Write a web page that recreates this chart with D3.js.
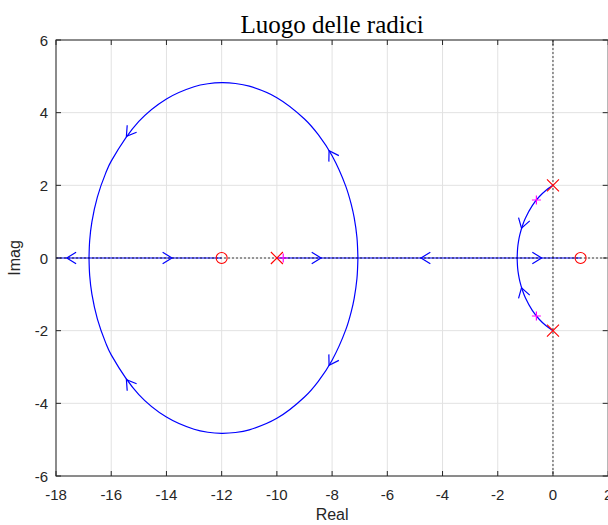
<!DOCTYPE html>
<html><head><meta charset="utf-8">
<script src="https://cdn.jsdelivr.net/npm/d3@7"></script>
<style>body{margin:0;background:#fff;} svg{display:block;}</style>
</head><body>
<script>
// ---- data ----
const xTicks = [-18,-16,-14,-12,-10,-8,-6,-4,-2,0,2];
const yTicks = [-6,-4,-2,0,2,4,6];
const titleText = "Luogo delle radici";
const xLabel = "Real", yLabel = "Imag";
// open-loop poles (x) and zeros (o)
const polesRe = [0, 0, -10];
const polesIm = [2, -2, 0];
const zerosRe = [1, -12];
const zerosIm = [0, 0];
// closed-loop poles at the chosen gain (magenta +)
const clRe = [-0.6, -0.6, -9.77];
const clIm = [1.597, -1.597, 0];
// real-axis locus segments
const segStart = [-18, -10];
const segEnd = [-12, 1];
// big loop (upper half; lower half is its conjugate)
const loopRe = [-7.065,-7.1,-7.2,-7.3,-7.5,-8,-8.5,-9,-10,-11,-11.5,-12,-12.5,-13,-14,-15,-16,-16.2,-16.5,-16.7,-16.78,-16.804];
const loopIm = [0,0.566,1.109,1.456,1.965,2.812,3.393,3.826,4.413,4.729,4.803,4.825,4.796,4.714,4.378,3.759,2.665,2.336,1.684,0.995,0.48,0];
// small arc from the complex poles (upper half; lower is conjugate)
const arcRe = [0,-0.25,-0.5,-0.75,-1.0,-1.1,-1.2,-1.25,-1.28,-1.298];
const arcIm = [2,1.865,1.685,1.442,1.095,0.903,0.644,0.453,0.277,0];
// direction arrows: position and direction (data units)
const arrX = [-17.61,-13.8,-8.4,-4.78,-0.41,-1.14,-1.14,-15.45,-15.45,-8.11,-8.11];
const arrY = [0,0,0,0,0,0.82,-0.82,3.35,-3.35,2.955,-2.955];
const arrDX = [-1,1,1,-1,1,-1,-1,-1,-1,-1,-1];
const arrDY = [0,0,0,0,0,-2.59,2.59,-1.04,1.04,1.27,-1.27];

// ---- layout ----
const W = 608, H = 525;
const L = 56, R = 608.2, T = 40, B = 476;
const axisCol = "#262626";
const svg = d3.select("body").append("svg").attr("width", W).attr("height", H);
const x = d3.scaleLinear().domain([-18, 2]).range([L, R]);
const y = d3.scaleLinear().domain([-6, 6]).range([B, T]);

svg.append("defs").append("clipPath").attr("id","clip")
  .append("rect").attr("x",L).attr("y",T).attr("width",R-L).attr("height",B-T);

// grid
const grid = svg.append("g").attr("stroke","#e2e2e2").attr("stroke-width",1);
grid.selectAll("line.gx").data(xTicks).join("line")
  .attr("x1",d=>x(d)).attr("x2",d=>x(d)).attr("y1",T).attr("y2",B);
grid.selectAll("line.gy").data(yTicks).join("line")
  .attr("y1",d=>y(d)).attr("y2",d=>y(d)).attr("x1",L).attr("x2",R);

const plot = svg.append("g").attr("clip-path","url(#clip)");
const blue = "#0000ff";
const line = d3.line().x(d=>x(d[0])).y(d=>y(d[1])).curve(d3.curveCatmullRom.alpha(0.5));

// real axis segments
plot.selectAll("line.seg").data(segStart.map((s,i)=>[s,segEnd[i]])).join("line")
  .attr("x1",d=>x(d[0])).attr("x2",d=>x(d[1])).attr("y1",y(0)).attr("y2",y(0))
  .attr("stroke",blue).attr("stroke-width",1.2);

const loopUp = loopRe.map((r,i)=>[r, loopIm[i]]);
const loopDn = loopRe.map((r,i)=>[r, -loopIm[i]]);
const arcUp = arcRe.map((r,i)=>[r, arcIm[i]]);
const arcDn = arcRe.map((r,i)=>[r, -arcIm[i]]);
[loopUp, loopDn, arcUp, arcDn].forEach(pts=>{
  plot.append("path").attr("d", line(pts)).attr("fill","none")
    .attr("stroke",blue).attr("stroke-width",1.2);
});

// dotted axes lines
plot.append("line").attr("x1",L).attr("x2",R).attr("y1",y(0)).attr("y2",y(0))
  .attr("stroke","#000").attr("stroke-width",1).attr("stroke-dasharray","2,2").attr("opacity",0.75);
plot.append("line").attr("x1",x(0)).attr("x2",x(0)).attr("y1",T).attr("y2",B)
  .attr("stroke","#000").attr("stroke-width",1).attr("stroke-dasharray","2,2").attr("opacity",0.75);

// arrows
const kx = x(1)-x(0), ky = y(0)-y(1);
const arrLen = 11, arrAng = 32*Math.PI/180;
arrX.forEach((ax,i)=>{
  let sx = arrDX[i]*kx, sy = -arrDY[i]*ky;
  const n = Math.hypot(sx,sy); sx/=n; sy/=n;
  const X = x(ax), Y = y(arrY[i]);
  const bx = -sx, by = -sy;
  const c = Math.cos(arrAng), s = Math.sin(arrAng);
  const p1 = [X + arrLen*(bx*c - by*s), Y + arrLen*(bx*s + by*c)];
  const p2 = [X + arrLen*(bx*c + by*s), Y + arrLen*(-bx*s + by*c)];
  plot.append("path").attr("d",`M${p1[0]},${p1[1]}L${X},${Y}L${p2[0]},${p2[1]}`)
    .attr("fill","none").attr("stroke",blue).attr("stroke-width",1.2);
});

// closed-loop poles (magenta +)
clRe.forEach((r,i)=>{
  const X = x(r), Y = y(clIm[i]), s = 4.5;
  plot.append("path").attr("d",`M${X-s},${Y}L${X+s},${Y}M${X},${Y-s}L${X},${Y+s}`)
    .attr("stroke","#ff00ff").attr("stroke-width",1.2);
});
// poles
polesRe.forEach((r,i)=>{
  const X = x(r), Y = y(polesIm[i]), s = 6;
  plot.append("path").attr("d",`M${X-s},${Y-s}L${X+s},${Y+s}M${X-s},${Y+s}L${X+s},${Y-s}`)
    .attr("stroke","#ff0000").attr("stroke-width",1.1);
});
// zeros
zerosRe.forEach((r,i)=>{
  plot.append("circle").attr("cx",x(r)).attr("cy",y(zerosIm[i])).attr("r",5.5)
    .attr("fill","none").attr("stroke","#ff0000").attr("stroke-width",1.1);
});

// axes box + ticks
const ax = svg.append("g").attr("stroke",axisCol).attr("stroke-width",1);
ax.append("rect").attr("x",L).attr("y",T).attr("width",R-L).attr("height",B-T).attr("fill","none");
const tl = 5;
xTicks.forEach(t=>{
  ax.append("line").attr("x1",x(t)).attr("x2",x(t)).attr("y1",B).attr("y2",B-tl);
  ax.append("line").attr("x1",x(t)).attr("x2",x(t)).attr("y1",T).attr("y2",T+tl);
});
yTicks.forEach(t=>{
  ax.append("line").attr("y1",y(t)).attr("y2",y(t)).attr("x1",L).attr("x2",L+tl);
  ax.append("line").attr("y1",y(t)).attr("y2",y(t)).attr("x1",R-0.5).attr("x2",R-0.5-tl);
});

const font = "'Liberation Sans', Arial, Helvetica, sans-serif";
svg.append("g").selectAll("text").data(xTicks).join("text")
  .attr("x",d=>x(d)).attr("y",500).attr("text-anchor","middle")
  .attr("font-family",font).attr("font-size",15).attr("fill",axisCol).text(d=>d);
svg.append("g").selectAll("text").data(yTicks).join("text")
  .attr("x",48).attr("y",d=>y(d)+5.5).attr("text-anchor","end")
  .attr("font-family",font).attr("font-size",15).attr("fill",axisCol).text(d=>d);

svg.append("text").attr("x",(L+R)/2).attr("y",520).attr("text-anchor","middle")
  .attr("font-family",font).attr("font-size",16).attr("fill",axisCol).text(xLabel);
svg.append("text").attr("transform",`translate(20,${(T+B)/2}) rotate(-90)`).attr("text-anchor","middle")
  .attr("font-family",font).attr("font-size",16).attr("fill",axisCol).text(yLabel);
svg.append("text").attr("x",(L+R)/2).attr("y",33).attr("text-anchor","middle")
  .attr("font-family","'Liberation Serif', 'Times New Roman', serif").attr("font-size",25)
  .attr("fill","#000").text(titleText);
</script>
</body></html>
